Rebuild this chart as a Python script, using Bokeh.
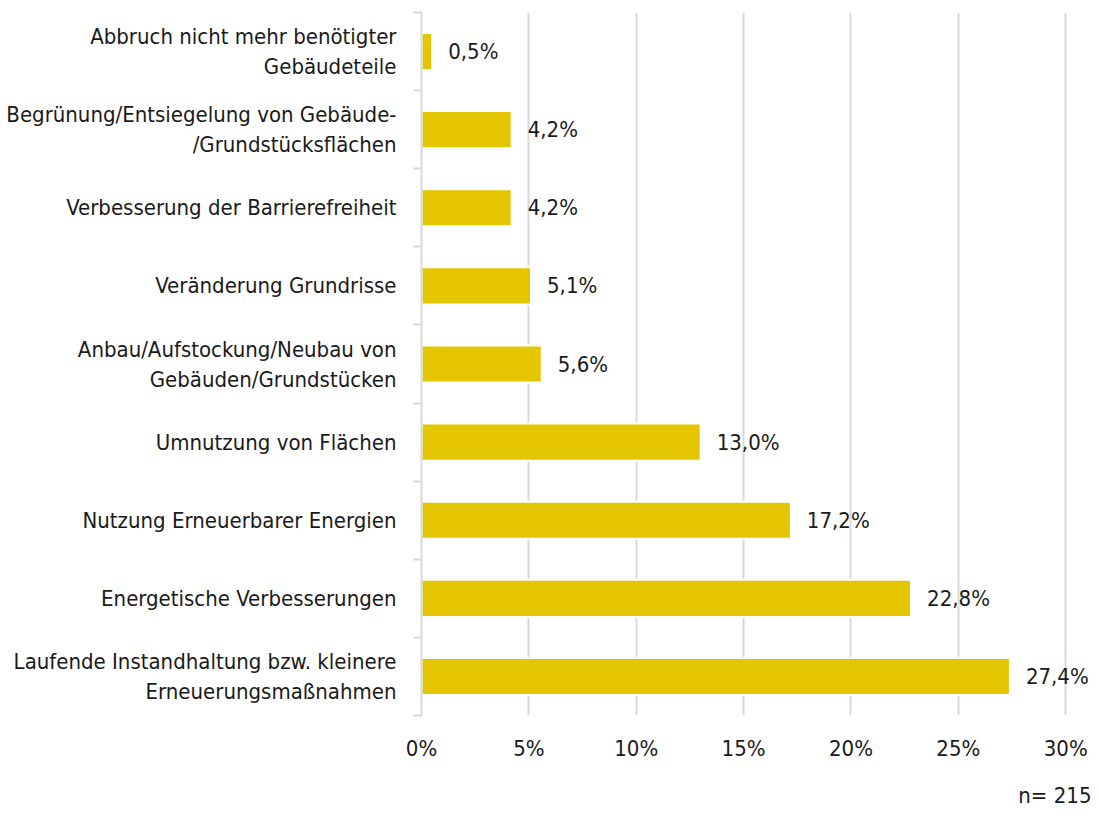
from bokeh.plotting import figure
from bokeh.models import Range1d, FixedTicker, ColumnDataSource, Title
from bokeh.embed import file_html
from bokeh.resources import INLINE
from bokeh.core.properties import value

categories = [
    "Abbruch nicht mehr benötigter\nGebäudeteile",
    "Begrünung/Entsiegelung von Gebäude-\n/Grundstücksflächen",
    "Verbesserung der Barrierefreiheit",
    "Veränderung Grundrisse",
    "Anbau/Aufstockung/Neubau von\nGebäuden/Grundstücken",
    "Umnutzung von Flächen",
    "Nutzung Erneuerbarer Energien",
    "Energetische Verbesserungen",
    "Laufende Instandhaltung bzw. kleinere\nErneuerungsmaßnahmen",
]
values = [0.5, 4.2, 4.2, 5.1, 5.6, 13.0, 17.2, 22.8, 27.4]
value_labels = ["0,5%", "4,2%", "4,2%", "5,1%", "5,6%", "13,0%", "17,2%", "22,8%", "27,4%"]
x_ticks = [0, 5, 10, 15, 20, 25, 30]
x_tick_labels = ["0%", "5%", "10%", "15%", "20%", "25%", "30%"]
note = "n= 215"

FONT = "DejaVu Sans Condensed"
FS = "22px"
n = len(categories)
ypos = [n - 1 - i for i in range(n)]

src = ColumnDataSource(dict(y=ypos, v=values, lab=value_labels))

p = figure(width=1093, height=828, output_backend="svg", toolbar_location=None,
           x_range=Range1d(0, 31.2), y_range=Range1d(-0.5, n - 0.5),
           min_border_left=421, min_border_right=2, min_border_top=12, min_border_bottom=112)
p.outline_line_color = None
p.background_fill_color = "white"
p.border_fill_color = "white"

p.hbar(y="y", right="v", left=0, height=0.475, source=src,
       fill_color="#E3C600", line_color="white", line_width=2)
p.text(x="v", y="y", text="lab", source=src, x_offset=16,
       text_align="left", text_baseline="middle", text_font=value(FONT),
       text_font_size=FS, text_color="#1a1a1a")

# x axis
xa = p.xaxis[0]
xa.ticker = FixedTicker(ticks=x_ticks)
xa.major_label_overrides = {t: l for t, l in zip(x_ticks, x_tick_labels)}
xa.axis_line_color = None
xa.major_tick_line_color = None
xa.minor_tick_line_color = None
xa.major_tick_out = 0
xa.major_label_standoff = 20
xa.major_label_text_font = FONT
xa.major_label_text_font_size = FS
xa.major_label_text_color = "#1a1a1a"

p.xgrid.ticker = FixedTicker(ticks=x_ticks[1:])
p.xgrid.grid_line_color = "#d9d9d9"
p.xgrid.grid_line_width = 2
p.ygrid.grid_line_color = None

# y axis
ya = p.yaxis[0]
ya.ticker = FixedTicker(ticks=ypos, minor_ticks=[i - 0.5 for i in range(n + 1)])
ya.major_label_overrides = {y: c for y, c in zip(ypos, categories)}
ya.axis_line_color = "#d9d9d9"
ya.axis_line_width = 2
ya.major_tick_line_color = None
ya.major_tick_out = 0
ya.major_tick_in = 0
ya.minor_tick_line_color = "#d9d9d9"
ya.minor_tick_line_width = 2
ya.minor_tick_out = 8
ya.minor_tick_in = 0
ya.major_label_standoff = 17
ya.major_label_text_font = FONT
ya.major_label_text_font_size = FS
ya.major_label_text_color = "#1a1a1a"

p.add_layout(Title(text=note, align="right", text_font=FONT, text_font_size=FS,
                   text_font_style="normal", text_color="#1a1a1a", standoff=38,
                   vertical_align="top"), "below")

open("out.html", "w").write(file_html(p, INLINE))
